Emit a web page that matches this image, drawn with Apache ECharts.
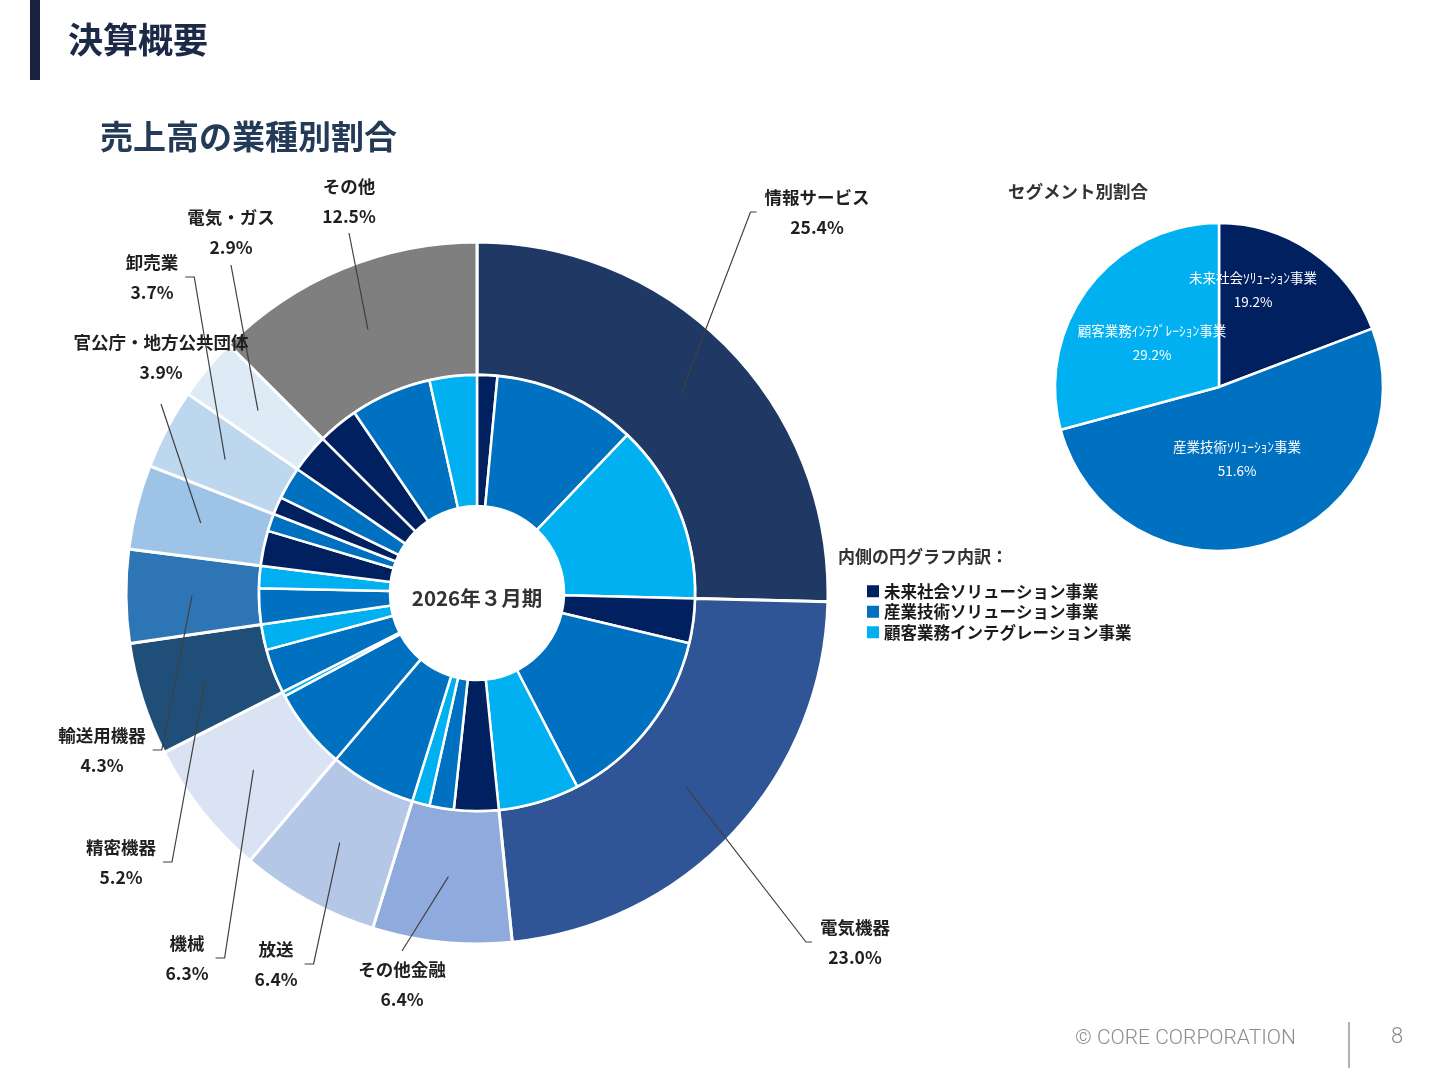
<!DOCTYPE html>
<html lang="ja">
<head>
<meta charset="utf-8">
<title>決算概要</title>
<script src="https://cdn.jsdelivr.net/npm/echarts@6.0.0/dist/echarts.min.js"></script>
<style>
  html, body { margin: 0; padding: 0; background: #fff; }
  #chart { width: 1440px; height: 1080px; }
</style>
</head>
<body>
<div id="chart"></div>
<script>
// 外側の円：業種別（12時から時計回り）
var industries = ['情報サービス', '電気機器', 'その他金融', '放送', '機械', '精密機器',
                  '輸送用機器', '官公庁・地方公共団体', '卸売業', '電気・ガス', 'その他'];
var industryShares = [25.4, 23.0, 6.4, 6.4, 6.3, 5.2, 4.3, 3.9, 3.7, 2.9, 12.5];

// 内側の円：業種ごとのセグメント内訳（全体に対する%）
var segments = ['未来社会ソリューション事業', '産業技術ソリューション事業', '顧客業務インテグレーション事業'];
var segmentShort = ['未来社会ｿﾘｭｰｼｮﾝ事業', '産業技術ｿﾘｭｰｼｮﾝ事業', '顧客業務ｲﾝﾃｸﾞﾚｰｼｮﾝ事業'];
var miraiByIndustry   = [1.5, 3.3, 3.3, 0, 0, 0, 0, 2.6, 1.3, 2.9, 3.0];
var sangyoByIndustry  = [10.6, 13.7, 1.8, 6.4, 5.95, 3.3, 2.65, 1.3, 2.4, 0, 6.0];
var kokyakuByIndustry = [13.3, 6.0, 1.3, 0, 0.35, 1.9, 1.65, 0, 0, 0, 3.5];

// 右上：セグメント別割合
var segmentShares = [19.2, 51.6, 29.2];

var FONT = '"Noto Sans CJK JP", "Noto Sans", sans-serif';
var outerColors = ['#203864', '#2F5597', '#8FAADC', '#B4C7E7', '#DAE3F3', '#1F4E79',
                   '#2E75B6', '#9DC3E6', '#BDD7EE', '#DEEBF7', '#7F7F7F'];
var segColors = ['#002060', '#0070C0', '#00B0F0'];
var CENTER = [477, 593];

// ラベルの置き場所（ブロック中心x, y, 引出線が入る側, 余白）
var labelSpots = [
  [817, 212, 'left'], [855, 942, 'left'], [402, 984, 'bottom'], [276, 964, 'right'],
  [187, 958, 'right'], [121, 862, 'right'], [102, 750, 'right'], [161, 357, 'top', 17],
  [152, 277, 'right'], [231, 232, 'top', 3], [349, 201, 'top', 2]
];
var segLabelSpots = [[1253, 290], [1237, 459], [1152, 343]];

var outerData = industries.map(function (name, i) {
  return { name: name, value: industryShares[i], itemStyle: { color: outerColors[i] } };
});

var innerData = [];
var bySegment = [miraiByIndustry, sangyoByIndustry, kokyakuByIndustry];
industries.forEach(function (name, i) {
  bySegment.forEach(function (arr, s) {
    if (arr[i] > 0) {
      innerData.push({ name: segments[s], value: arr[i], itemStyle: { color: segColors[s] } });
    }
  });
});

var chart = echarts.init(document.getElementById('chart'));

chart.setOption({
  animation: false,
  textStyle: { fontFamily: FONT },
  legend: {
    data: segments,
    orient: 'vertical',
    left: 862,
    top: 578,
    itemWidth: 12,
    itemHeight: 12,
    itemGap: 4,
    icon: 'rect',
    selectedMode: false,
    itemStyle: { borderWidth: 0 },
    textStyle: { fontSize: 16.5, fontWeight: 'bold', color: '#1a1a1a', lineHeight: 16, fontFamily: FONT }
  },
  graphic: [
    { type: 'rect', shape: { x: 30, y: 0, width: 10, height: 80 }, style: { fill: '#1b2240' } },
    { type: 'text', x: 68, y: 40, style: { text: '決算概要', fontSize: 35, fontWeight: 'bold', fontFamily: FONT,
        fill: '#1c2a48', textVerticalAlign: 'middle', verticalAlign: 'middle' } },
    { type: 'text', x: 100, y: 136, style: { text: '売上高の業種別割合', fontSize: 33, fontWeight: 'bold', fontFamily: FONT,
        fill: '#243b58', textVerticalAlign: 'middle', verticalAlign: 'middle' } },
    { type: 'text', x: 1008, y: 191, style: { text: 'セグメント別割合', fontSize: 17.5, fontWeight: 'bold', fontFamily: FONT,
        fill: '#333', textVerticalAlign: 'middle', verticalAlign: 'middle' } },
    { type: 'text', x: 838, y: 557, style: { text: '内側の円グラフ内訳：', fontSize: 17, fontWeight: 'bold', fontFamily: FONT,
        fill: '#333', textVerticalAlign: 'middle', verticalAlign: 'middle' } },
    { type: 'text', x: 477, y: 598, style: { text: '2026年３月期', fontSize: 20.5, fontWeight: 'bold', fontFamily: FONT,
        fill: '#333', textAlign: 'center', align: 'center', textVerticalAlign: 'middle', verticalAlign: 'middle' } },
    { type: 'text', x: 1075, y: 1039, style: { text: '© CORE CORPORATION', fontSize: 21, fontWeight: 300,
        fontFamily: 'Roboto, sans-serif', fill: '#8c8c8c', textVerticalAlign: 'middle', verticalAlign: 'middle' } },
    { type: 'line', shape: { x1: 1349, y1: 1022, x2: 1349, y2: 1068 }, style: { stroke: '#999', lineWidth: 1.5 } },
    { type: 'text', x: 1397, y: 1037, style: { text: '8', fontSize: 22, fontWeight: 300, fontFamily: 'Roboto, sans-serif',
        fill: '#8c8c8c', textAlign: 'center', align: 'center', textVerticalAlign: 'middle', verticalAlign: 'middle' } }
  ],
  series: [
    {
      name: '業種',
      type: 'pie',
      center: CENTER,
      radius: [218, 351],
      startAngle: 90,
      silent: true,
      emphasis: { disabled: true },
      itemStyle: { borderColor: '#fff', borderWidth: 3 },
      label: { show: false },
      labelLine: { show: false },
      data: outerData
    },
    {
      name: '内訳',
      type: 'pie',
      center: CENTER,
      radius: [87, 218],
      startAngle: 90,
      silent: true,
      emphasis: { disabled: true },
      itemStyle: { borderColor: '#fff', borderWidth: 2.5 },
      label: { show: false },
      labelLine: { show: false },
      data: innerData
    },
    {
      // ラベルと引出線だけを描く透明な円
      name: 'ラベル',
      type: 'pie',
      center: CENTER,
      radius: [0, 285],
      startAngle: 90,
      silent: true,
      z: 10,
      avoidLabelOverlap: false,
      emphasis: { disabled: true },
      itemStyle: { color: 'rgba(0,0,0,0)', borderWidth: 0 },
      label: {
        show: true,
        position: 'outside',
        fontSize: 17.5,
        fontWeight: 'bold',
        color: '#1f1f1f',
        lineHeight: 30,
        align: 'center',
        fontFamily: FONT,
        formatter: function (p) { return p.name + '\n' + p.value.toFixed(1) + '%'; }
      },
      labelLine: { show: true, length: 20, length2: 10, lineStyle: { color: '#404040', width: 1.2 } },
      labelLayout: function (p) {
        var s = labelSpots[p.dataIndex];
        var w = p.labelRect.width, h = p.labelRect.height;
        var cx = s[0], cy = s[1], end, elbow;
        if (s[2] === 'left') { end = [cx - w / 2 - 8, cy]; elbow = [end[0] - 6, cy]; }
        else if (s[2] === 'right') { end = [cx + w / 2 + 7, cy]; elbow = [end[0] + 9, cy]; }
        else if (s[2] === 'top') { end = [cx, cy + h / 2 + (s[3] || 3)]; elbow = end; }
        else { end = [cx, cy - h / 2 - 3]; elbow = end; }
        var out = { x: cx, y: cy, align: 'center', verticalAlign: 'middle', hideOverlap: false };
        if (p.labelLinePoints) out.labelLinePoints = [p.labelLinePoints[0], elbow, end];
        return out;
      },
      data: industries.map(function (name, i) { return { name: name, value: industryShares[i] }; })
    },
    {
      name: 'セグメント別割合',
      type: 'pie',
      center: [1219, 387],
      radius: [0, 164],
      startAngle: 90,
      silent: true,
      emphasis: { disabled: true },
      itemStyle: { borderColor: '#fff', borderWidth: 2.5 },
      label: {
        show: true,
        position: 'inside',
        color: '#fff',
        fontSize: 13.5,
        lineHeight: 24,
        align: 'center',
        fontFamily: FONT,
        formatter: function (p) { return segmentShort[p.dataIndex] + '\n' + p.value.toFixed(1) + '%'; }
      },
      labelLine: { show: false },
      labelLayout: function (p) {
        var s = segLabelSpots[p.dataIndex];
        return { x: s[0], y: s[1], align: 'center', verticalAlign: 'middle' };
      },
      data: segments.map(function (name, i) {
        return { name: name, value: segmentShares[i], itemStyle: { color: segColors[i] } };
      })
    }
  ]
});
</script>
</body>
</html>
